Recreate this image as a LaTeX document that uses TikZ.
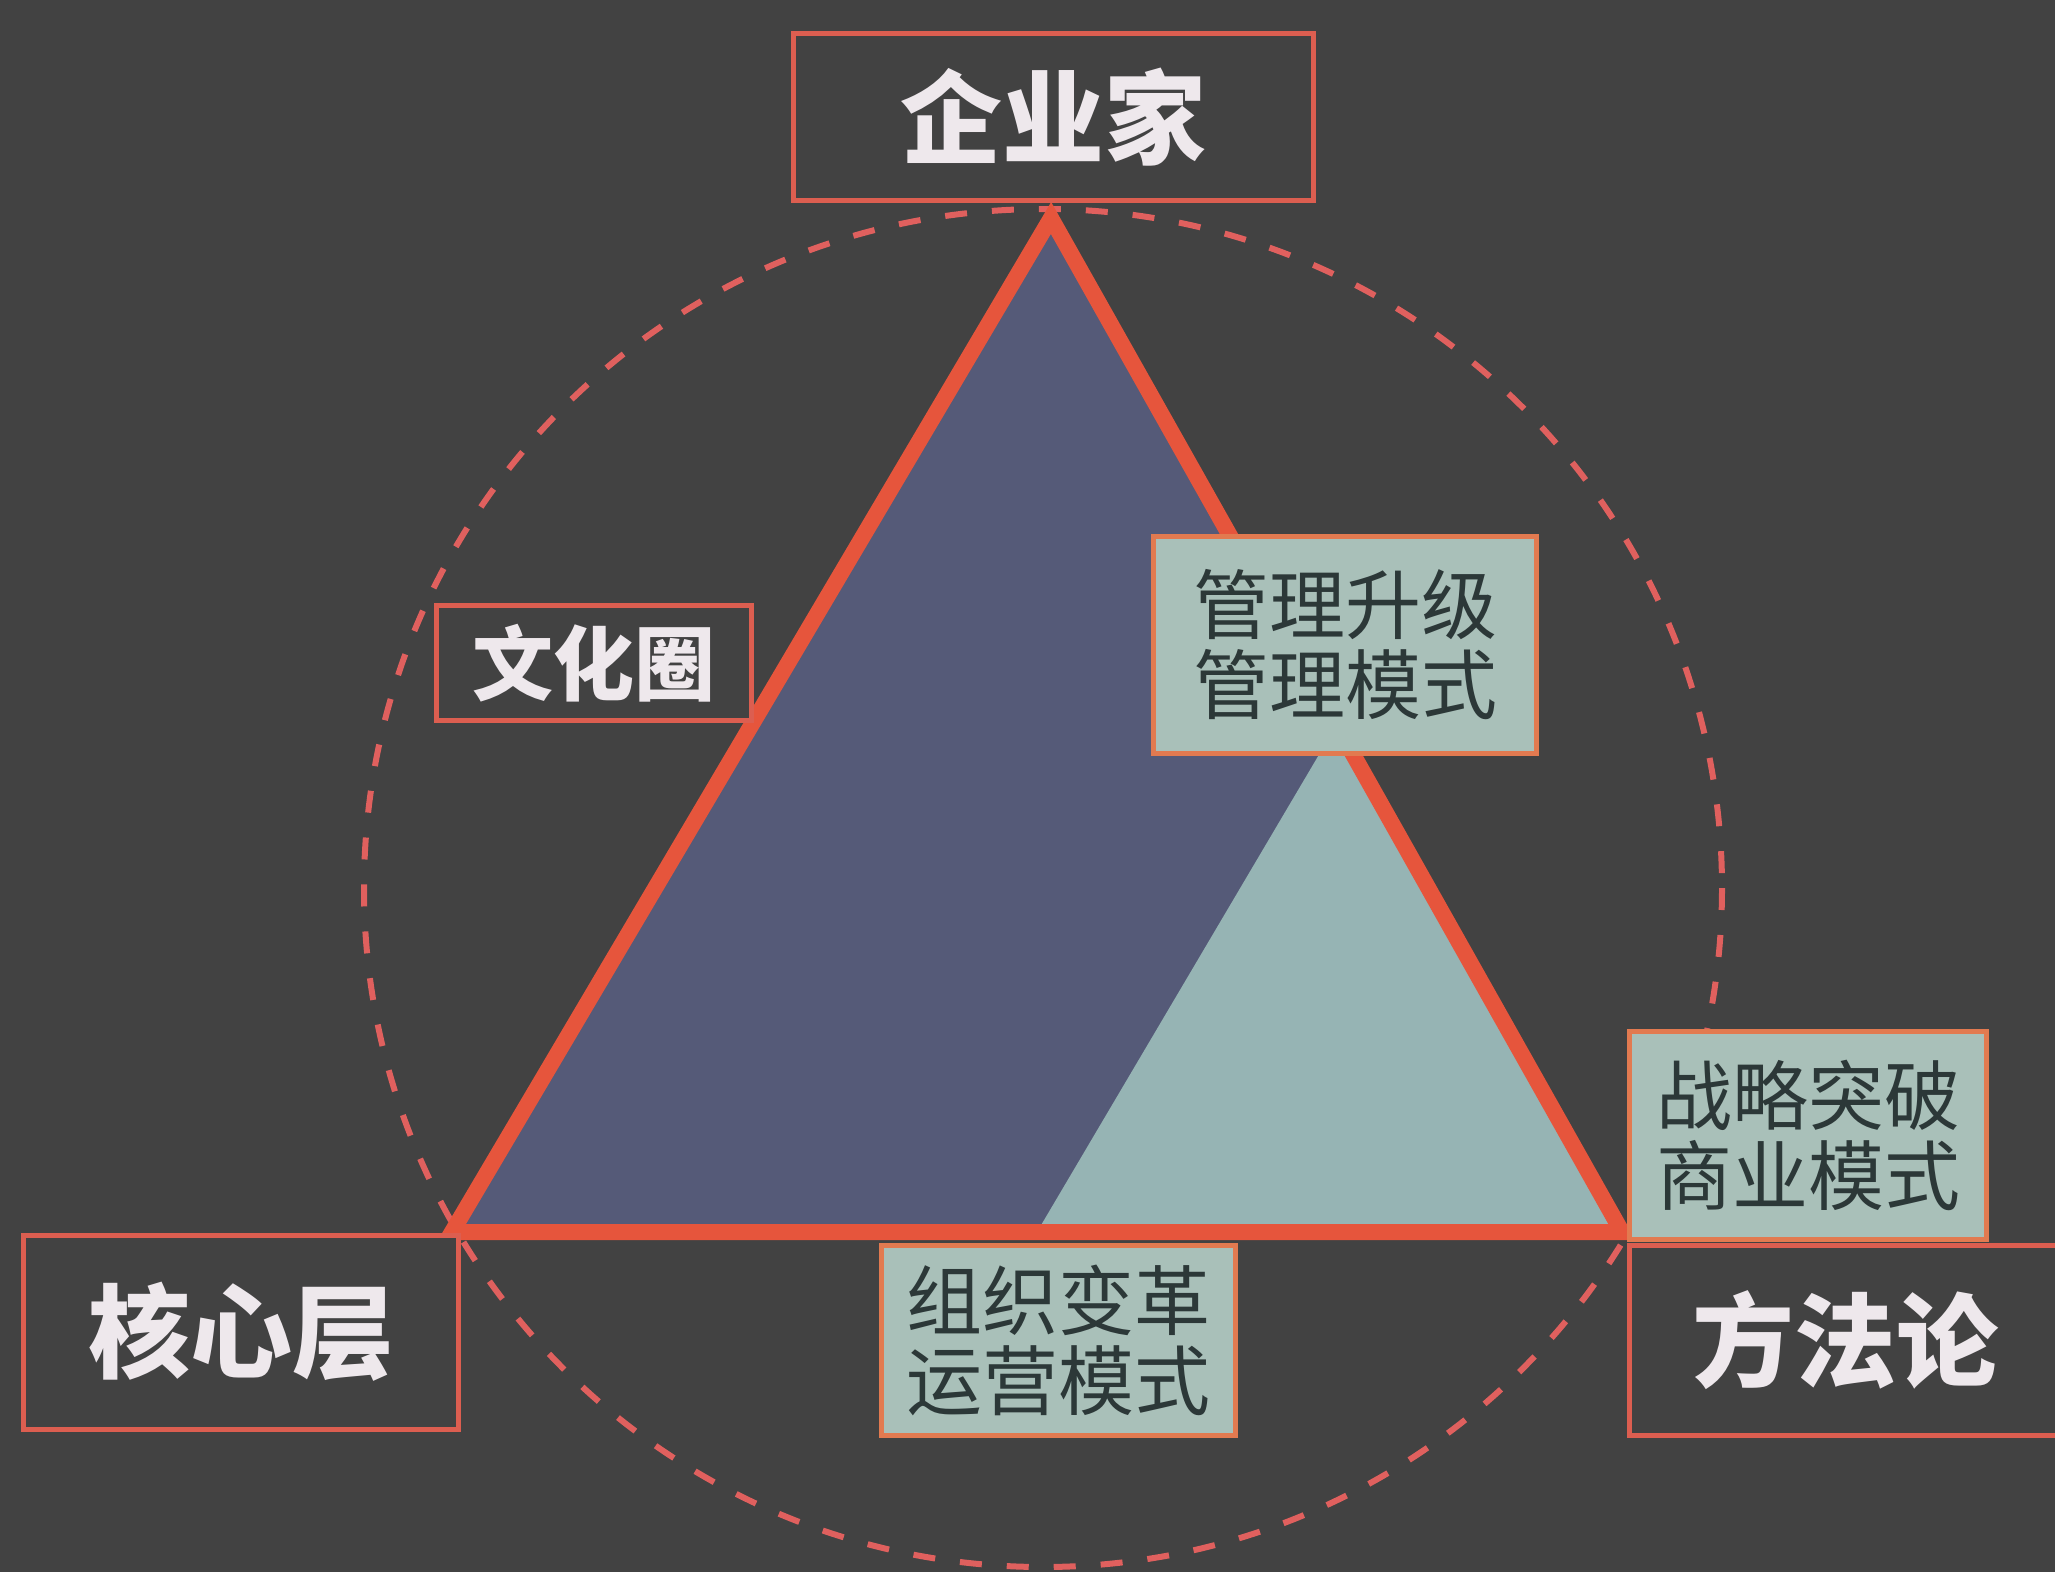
\documentclass[tikz,border=0pt]{standalone}
\usepackage{fontspec}
\usetikzlibrary{calc}
\newfontfamily\cjk{Noto Sans CJK SC}
\definecolor{bgc}{HTML}{424242}
\definecolor{slate}{HTML}{555A78}
\definecolor{teal}{HTML}{96B4B4}
\definecolor{redline}{HTML}{E6553C}
\definecolor{boxred}{HTML}{DC5E50}
\definecolor{dashred}{HTML}{E0605E}
\definecolor{boxorange}{HTML}{E27A50}
\definecolor{lightfill}{HTML}{A9C0B9}
\definecolor{darktext}{HTML}{2C3838}
\definecolor{whitetext}{HTML}{EEE8EC}
\tikzset{
  darkbox/.style={draw=boxred, line width=5pt, fill=bgc, inner sep=0pt,
    text=whitetext, font=\cjk\bfseries\fontsize{102}{106}\selectfont},
  smalldark/.style={darkbox, font=\cjk\bfseries\fontsize{81}{85}\selectfont},
  lightbox/.style={draw=boxorange, line width=5pt, fill=lightfill, inner sep=0pt,
    text=darktext, align=center, font=\cjk\fontsize{76}{80}\selectfont},
  triline/.style={draw=redline, line width=16pt, line join=miter},
  dashcircle/.style={draw=dashred, line width=6pt, dash pattern=on 22pt off 25pt}
}
\begin{document}
\begin{tikzpicture}[x=1pt,y=-1pt]
\fill[bgc] (0,0) rectangle (2055,1572);
\useasboundingbox (0,0) rectangle (2055,1572);
% circle
\coordinate (cc) at (1043,888);
\draw[dashcircle] (cc) circle[radius=679];
% triangle
\coordinate (A) at (1051,218);
\coordinate (B) at (452,1232);
\coordinate (C) at (1622,1232);
\coordinate (MR) at ($(A)!0.5!(C)$);
\coordinate (MB) at ($(B)!0.5!(C)$);
\fill[slate] (A) -- (B) -- (C) -- cycle;
\fill[teal] (MR) -- (MB) -- (C) -- cycle;
\draw[triline] (A) -- (B) -- (C) -- cycle;
% boxes
\node[darkbox, minimum width=520, minimum height=167] (top) at (1053,117) {企业家};
\node[smalldark, minimum width=315, minimum height=115] (culture) at (594,663) {文化圈};
\node[lightbox, minimum width=383, minimum height=217] (mgmt) at (1345,645) {管理升级\\管理模式};
\node[lightbox, minimum width=357, minimum height=208] (strat) at (1808,1135) {战略突破\\商业模式};
\node[lightbox, minimum width=354, minimum height=190] (org) at (1058,1340) {组织变革\\运营模式};
\node[darkbox, minimum width=435, minimum height=194] (core) at (241,1332) {核心层};
\node[darkbox, minimum width=432, minimum height=190] (method) at (1845,1340) {方法论};
\end{tikzpicture}
\end{document}
